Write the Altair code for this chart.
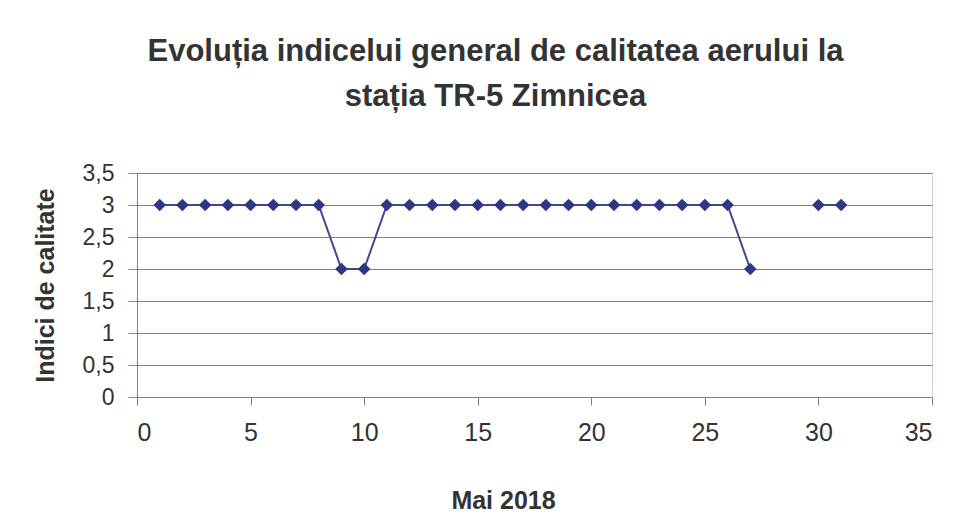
import altair as alt
import pandas as pd

days = list(range(1, 32))
values = [3, 3, 3, 3, 3, 3, 3, 3, 2, 2,
          3, 3, 3, 3, 3, 3, 3, 3, 3, 3,
          3, 3, 3, 3, 3, 3, 2, None, None, 3, 3]
y_ticks = [0, 0.5, 1, 1.5, 2, 2.5, 3, 3.5]
x_ticks = [0, 5, 10, 15, 20, 25, 30, 35]

# segment ids so the line breaks at missing days
seg, s, prev = [], 0, True
for v in values:
    if v is None:
        if prev:
            s += 1
        prev = False
    else:
        prev = True
    seg.append(s)

df = pd.DataFrame({"zi": days, "indice": values, "seg": seg}).dropna()

FONT = "Liberation Sans"
line_col = "#3f4797"
pt_col = "#2f3682"

x = alt.X("zi:Q", scale=alt.Scale(domain=[0, 35], nice=False),
          axis=alt.Axis(values=x_ticks, title="Mai 2018", grid=False,
                        labelFontSize=25, labelPadding=15, tickSize=8,
                        titleFontSize=25, titleFontWeight="bold",
                        titleX=366, titleY=103, titleBaseline="middle",
                        domainColor="#808080", tickColor="#808080",
                        labelColor="#333333", titleColor="#333333"))
y = alt.Y("indice:Q", scale=alt.Scale(domain=[0, 3.5], nice=False),
          axis=alt.Axis(values=y_ticks, title="Indici de calitate",
                        labelExpr="replace(toString(datum.value), '.', ',')",
                        labelFontSize=23, labelPadding=14, tickSize=9,
                        titleFontSize=25, titleFontWeight="bold",
                        titleX=-92, titleY=112, titleBaseline="middle",
                        gridColor="#7f7f7f", gridWidth=1,
                        domainColor="#808080", tickColor="#808080",
                        labelColor="#333333", titleColor="#333333"))

line = alt.Chart(df).mark_line(color=line_col, strokeWidth=2).encode(
    x=x, y=y, detail="seg:N")
pts = alt.Chart(df).mark_point(shape="diamond", filled=True, color=pt_col,
                               size=160, opacity=1).encode(x=x, y=y)

chart = (line + pts).properties(
    width=795, height=224,
    autosize=alt.AutoSizeParams(type="none"),
    padding={"left": 129, "top": 165, "right": 15, "bottom": 122},
    title=alt.TitleParams(
        text=["Evoluția indicelui general de calitatea aerului la",
              "stația TR-5 Zimnicea"],
        fontSize=31, fontWeight="bold", font=FONT, color="#333333",
        lineHeight=45, anchor="middle", dx=-39, offset=49),
).configure(font=FONT).configure_view(
    stroke="#d9c8ea", strokeWidth=1
).configure_axis(labelFont=FONT, titleFont=FONT)

chart.save("out.html", embed_options={"renderer": "svg", "actions": False})
